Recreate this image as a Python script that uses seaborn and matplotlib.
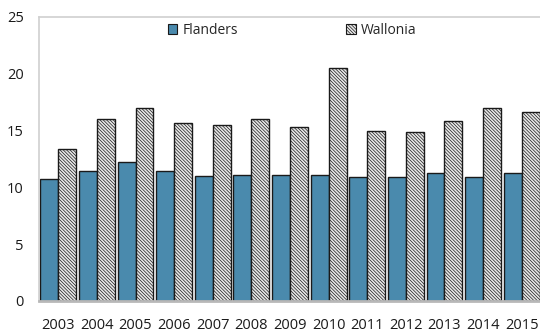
import matplotlib
matplotlib.use("Agg")
import matplotlib.pyplot as plt
import seaborn as sns
import pandas as pd
import numpy as np
from matplotlib.patches import Patch

years = ["2003", "2004", "2005", "2006", "2007", "2008", "2009",
         "2010", "2011", "2012", "2013", "2014", "2015"]
flanders = [10.7, 11.45, 12.2, 11.4, 11.0, 11.1, 11.05, 11.1, 10.9, 10.9, 11.25, 10.9, 11.3]
wallonia = [13.35, 16.05, 17.0, 15.7, 15.45, 16.05, 15.35, 20.5, 14.95, 14.9, 15.85, 16.95, 16.6]
regions = ["Flanders", "Wallonia"]
y_ticks = [0, 5, 10, 15, 20, 25]

df = pd.DataFrame({
    "year": years * 2,
    "value": flanders + wallonia,
    "region": [regions[0]] * len(years) + [regions[1]] * len(years),
})

sns.set_style("white")
plt.rcParams["font.family"] = ["Open Sans", "DejaVu Sans"]
plt.rcParams["hatch.color"] = "#8e8e8e"
plt.rcParams["hatch.linewidth"] = 0.5

HATCH = "\\" * 10
WAL_FACE = "#e8e8e8"

fig = plt.figure(figsize=(5.4, 3.33), dpi=100)
# axes extends slightly past the right edge of the figure
ax = fig.add_axes([39 / 540, 1 - 301 / 333, 502 / 540, 284 / 333])

palette = {"Flanders": "#4a8aad", "Wallonia": WAL_FACE}
sns.barplot(data=df, x="year", y="value", hue="region", palette=palette,
            width=0.93, edgecolor="#1a1a1a", linewidth=1.0, saturation=1,
            ax=ax, legend=False)

n = len(years)
for i, p in enumerate(ax.patches[: 2 * n]):
    if i >= n:
        p.set_hatch(HATCH)
        p.set_facecolor(WAL_FACE)

ax.set_xlim(-0.5, n - 0.5)
ax.set_ylim(0, 25)
ax.set_yticks(y_ticks)
ax.set_xlabel("")
ax.set_ylabel("")

for s in ["left", "top", "right"]:
    ax.spines[s].set_color("#d0d0d0")
    ax.spines[s].set_linewidth(1.2)
ax.spines["bottom"].set_color("#b8b8b8")
ax.spines["bottom"].set_linewidth(2.0)

ax.tick_params(axis="y", direction="in", length=4, color="#c0c0c0",
               labelsize=10.5, pad=11, labelcolor="#1a1a1a")
ax.tick_params(axis="x", which="major", length=0, labelsize=10.5, pad=12,
               labelcolor="#1a1a1a")
ax.set_xticks(np.arange(n - 1) + 0.5, minor=True)
ax.tick_params(axis="x", which="minor", direction="in", length=4, color="#c0c0c0")

handles = [
    Patch(facecolor=palette["Flanders"], edgecolor="#1a1a1a", linewidth=0.8),
    Patch(facecolor=WAL_FACE, edgecolor="#1a1a1a", linewidth=0.8, hatch=HATCH),
]
fig.legend(handles, regions, loc="center", bbox_to_anchor=(292 / 540, 1 - 30 / 333),
           ncol=2, frameon=False, fontsize=10, handlelength=0.7,
           handleheight=0.7, handletextpad=0.35, columnspacing=7.8)

fig.savefig("out.png", dpi=100)
